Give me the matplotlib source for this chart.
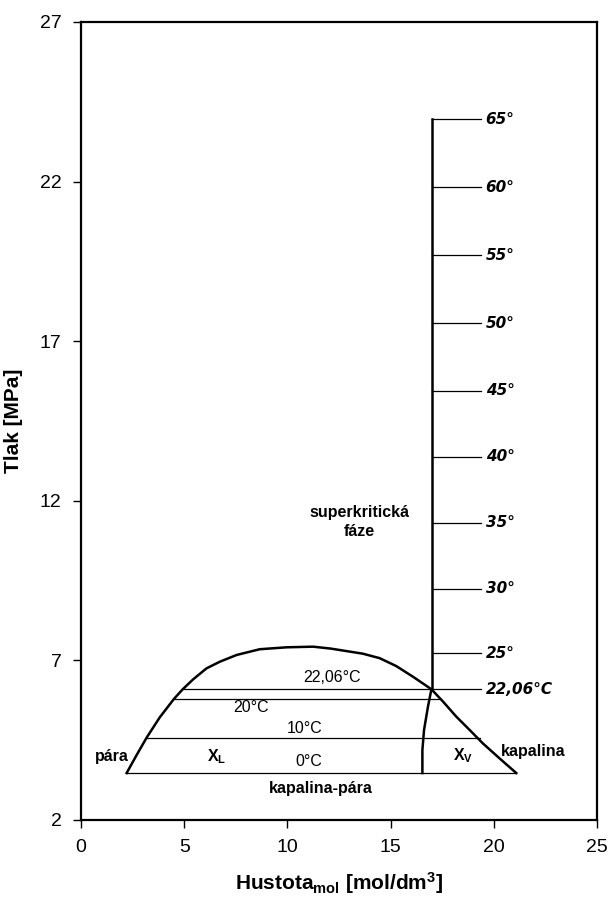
import matplotlib
matplotlib.use("Agg")
import matplotlib.pyplot as plt

plt.rcParams['font.family'] = ['Liberation Sans', 'DejaVu Sans']
plt.rcParams['mathtext.default'] = 'regular'

# Two-phase dome boundary (density, pressure)
dome_x = [2.21, 2.70, 3.18, 3.82, 4.50, 4.92, 5.44, 6.08, 6.73, 7.54, 8.66, 9.96,
          11.24, 12.1, 13.66, 14.47, 15.28, 16.08, 16.97, 17.54, 18.18, 18.83, 19.47, 20.28, 21.09]
dome_y = [3.47, 4.04, 4.58, 5.22, 5.79, 6.09, 6.41, 6.75, 6.96, 7.17, 7.35, 7.41,
          7.43, 7.37, 7.21, 7.07, 6.82, 6.49, 6.10, 5.71, 5.24, 4.82, 4.40, 3.93, 3.47]

# Tie lines (isotherms inside dome)
tie_labels = ['0°C', '10°C', '20°C', '22,06°C']
tie_left = [2.21, 3.18, 4.50, 4.92]
tie_right = [21.09, 19.35, 17.46, 17.0]
tie_y = [3.47, 4.58, 5.79, 6.09]
tie_label_x = [11.04, 10.83, 8.24, 12.16]
tie_label_y = [3.82, 4.88, 5.51, 6.47]

# Quality boundary curve X_V / X_L
q_x = [16.97, 16.81, 16.62, 16.54, 16.54]
q_y = [6.07, 5.55, 4.82, 4.19, 3.47]

# Supercritical vertical isochore and temperature marks
iso_x = 17.0
temp_labels = ['22,06°C', '25°', '30°', '35°', '40°', '45°', '50°', '55°', '60°', '65°']
temp_y = [6.09, 7.22, 9.24, 11.31, 13.38, 15.45, 17.56, 19.70, 21.82, 23.96]
tick_end_x = 19.36
temp_label_x = 19.6

fig = plt.figure(figsize=(6.10, 9.01), dpi=100)
ax = fig.add_axes([81/610, 1-820/901, (597-81)/610, (820-22)/901])

ax.plot(dome_x, dome_y, color='black', lw=1.8, solid_joinstyle='round')
for xl, xr, y in zip(tie_left, tie_right, tie_y):
    ax.plot([xl, xr], [y, y], color='black', lw=0.9)
for lab, x, y in zip(tie_labels, tie_label_x, tie_label_y):
    ax.text(x, y, lab, ha='center', va='center', fontsize=11.5)
ax.plot(q_x, q_y, color='black', lw=1.8)
ax.plot([iso_x, iso_x], [temp_y[0], temp_y[-1]], color='black', lw=1.8)
for lab, y in zip(temp_labels, temp_y):
    ax.plot([iso_x, tick_end_x], [y, y], color='black', lw=0.9)
    ax.text(temp_label_x, y, lab, ha='left', va='center', fontsize=11,
            fontweight='bold', fontstyle='italic', family='DejaVu Sans')

bold = dict(fontsize=11.5, fontweight='bold', ha='center', va='center')
ax.text(1.51, 4.0, 'pára', **bold)
ax.text(21.9, 4.15, 'kapalina', **bold)
ax.text(11.64, 2.98, 'kapalina-pára', **bold)
ax.text(6.57, 3.98, 'X$_L$', **bold)
ax.text(18.5, 4.02, 'X$_V$', **bold)
ax.text(13.47, 11.34, 'superkritická\nfáze', linespacing=1.35, **bold)

ax.set_xlim(0, 25)
ax.set_ylim(2, 27)
ax.set_xticks([0, 5, 10, 15, 20, 25])
ax.set_yticks([2, 7, 12, 17, 22, 27])
ax.tick_params(direction='out', length=6, width=1, labelsize=14, pad=8)
for s in ax.spines.values():
    s.set_linewidth(1.6)

ax.set_xlabel('Hustota$_{mol}$ [mol/dm$^{3}$]', fontsize=15, fontweight='bold', labelpad=10)
ax.set_ylabel('Tlak [MPa]', fontsize=15, fontweight='bold', labelpad=12)

fig.savefig('out.png', dpi=100)
